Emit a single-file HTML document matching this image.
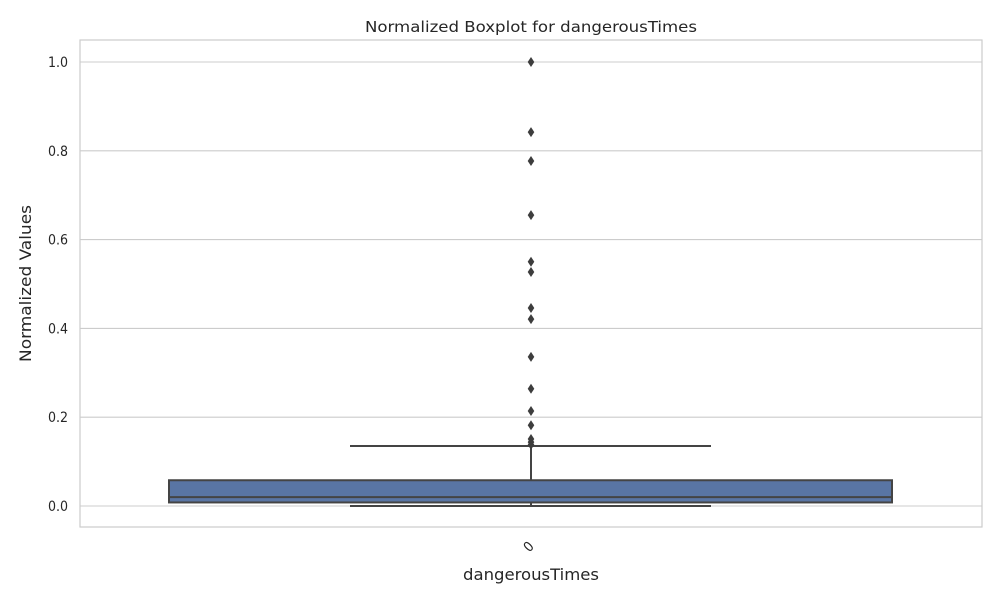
<!DOCTYPE html>
<html><head><meta charset="utf-8"><style>
body{margin:0;background:#fff;font-family:"DejaVu Sans Condensed","DejaVu Sans","Liberation Sans",sans-serif;}
</style></head><body>
<svg id="chart" width="1000" height="600" xmlns="http://www.w3.org/2000/svg" font-family="DejaVu Sans Condensed, DejaVu Sans, Liberation Sans, sans-serif">
<rect width="1000" height="600" fill="#fff"/>
<g id="grid"></g>
<rect x="80" y="40" width="902" height="487" fill="none" stroke="#cccccc" stroke-width="1.2"/>
<g id="marks"></g>
<g id="ticks"></g>
<text x="365" y="32" font-size="15" fill="#262626" textLength="332" lengthAdjust="spacingAndGlyphs">Normalized Boxplot for dangerousTimes</text>
<text transform="translate(31,362) rotate(-90)" font-size="16" fill="#262626" textLength="157" lengthAdjust="spacingAndGlyphs">Normalized Values</text>
<text x="463" y="580" font-size="16" fill="#262626" textLength="136" lengthAdjust="spacingAndGlyphs">dangerousTimes</text>
<text transform="translate(532,550) rotate(-45)" text-anchor="middle" font-size="14" fill="#262626">0</text>
</svg>
<script>
const yTicks=[0.0,0.2,0.4,0.6,0.8,1.0];
const yTickLabels=["0.0","0.2","0.4","0.6","0.8","1.0"];
const boxStats=[0.008,0.020,0.058]; // q1, median, q3
const whiskers=[0.0,0.135];
const outliers=[1.0,0.842,0.777,0.655,0.550,0.527,0.446,0.421,0.336,0.264,0.214,0.182,0.151,0.144,0.138];
const ns="http://www.w3.org/2000/svg";
const y=v=>506-v*444;
const cx=531;
function mk(tag,attrs,parent){const e=document.createElementNS(ns,tag);for(const k in attrs)e.setAttribute(k,attrs[k]);parent.appendChild(e);return e;}
const grid=document.getElementById('grid'),marks=document.getElementById('marks'),ticks=document.getElementById('ticks');
yTicks.forEach((t,i)=>{
 const l=mk('line',{x1:80,x2:982,y1:y(t),y2:y(t),stroke:'#cccccc','stroke-width':1.1},grid);
 
 
 const tx=mk('text',{x:68,y:y(t)+5,'text-anchor':'end','font-size':14,fill:'#262626'},ticks);
 tx.textContent=yTickLabels[i];
 
 
});
const stroke='#444',sw=2;
let e=mk('line',{x1:cx,x2:cx,y1:y(boxStats[2]),y2:y(whiskers[1]),stroke:stroke,'stroke-width':sw},marks);


e=mk('line',{x1:cx,x2:cx,y1:y(boxStats[0]),y2:y(whiskers[0]),stroke:stroke,'stroke-width':sw},marks);


e=mk('line',{x1:350,x2:711,y1:y(whiskers[1]),y2:y(whiskers[1]),stroke:stroke,'stroke-width':sw},marks);


e=mk('line',{x1:350,x2:711,y1:y(whiskers[0]),y2:y(whiskers[0]),stroke:stroke,'stroke-width':sw},marks);


e=mk('rect',{x:169,width:723,y:y(boxStats[2]),height:y(boxStats[0])-y(boxStats[2]),fill:'#5975a4',stroke:stroke,'stroke-width':sw},marks);


e=mk('line',{x1:169,x2:892,y1:y(boxStats[1]),y2:y(boxStats[1]),stroke:stroke,'stroke-width':sw},marks);


outliers.forEach(v=>{
 const p=mk('path',{d:`M${cx},${y(v)-5} L${cx+3.3},${y(v)} L${cx},${y(v)+5} L${cx-3.3},${y(v)} Z`,fill:'#3d3d3d'},marks);
 
 
});
</script>
</body></html>
